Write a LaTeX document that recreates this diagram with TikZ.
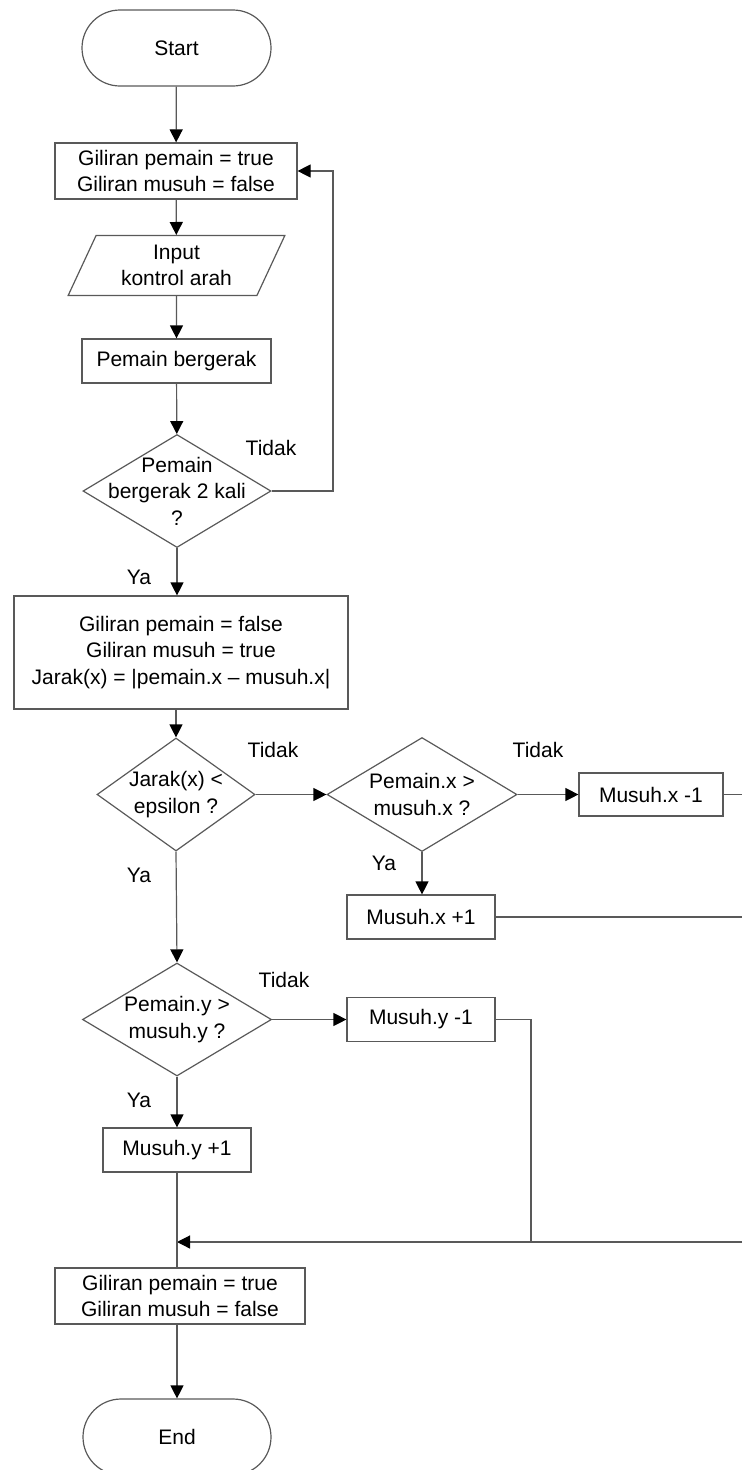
\documentclass[tikz,border=0pt]{standalone}
\usepackage{fontspec}
\setmainfont{Liberation Sans}
\usetikzlibrary{shapes.geometric,arrows.meta}
\begin{document}
\begin{tikzpicture}
      [x=1pt,y=-1pt,
      font=\fontsize{21}{26.5}\selectfont,
      every node/.style={align=center,inner sep=0pt},
      garis/.style={draw=black!65,line width=1.2pt},
      panah/.style={garis,-{Triangle[length=13pt,width=13pt,color=black]}},
      proses/.style={draw=black!65,line width=1.2pt,rectangle},
      terminal/.style={proses,rounded corners=38pt,minimum width=189pt,minimum height=76pt},
      keputusan/.style={proses,diamond},
      masukan/.style={proses,trapezium,trapezium left angle=65,trapezium right angle=115}]
      \useasboundingbox (0,0) rectangle (742,1470);
      \clip (0,0) rectangle (742,1470);

      \node[terminal] (start) at (176.5,48) {Start};
      \node[proses,minimum width=242pt,minimum height=56pt] (giliran1) at (176,171)
        {Giliran pemain = true\\Giliran musuh = false};
      \node[masukan,minimum width=217pt,minimum height=57pt] (input) at (176.5,265.5)
        {Input\\kontrol arah};
      \node[proses,minimum width=189pt,minimum height=44pt] (gerak) at (176.5,361) {Pemain bergerak};
      \node[keputusan,minimum width=188pt,minimum height=113pt,
        label={[align=center]center:Pemain\\bergerak 2 kali\\?}] (cekgerak) at (177,491) {};
      \node[proses,minimum width=334pt,minimum height=113pt] (hitung) at (181,652.5)
        {Giliran pemain = false\\Giliran musuh = true\\Jarak(x) = |pemain.x -- musuh.x|};
      \node[keputusan,minimum width=158pt,minimum height=113pt,
        label={[align=center]center:Jarak(x) <\\epsilon ?}] (cekjarak) at (176,794.5) {};
      \node[keputusan,minimum width=190pt,minimum height=114pt,
        label={[align=center]center:Pemain.x >\\musuh.x ?}] (cekx) at (422,794.5) {};
      \node[proses,minimum width=144pt,minimum height=43pt] (kurangx) at (651,794.5) {Musuh.x -1};
      \node[proses,minimum width=148pt,minimum height=44pt] (tambahx) at (421,917) {Musuh.x +1};
      \node[keputusan,minimum width=189pt,minimum height=113pt,
        label={[align=center]center:Pemain.y >\\musuh.y ?}] (ceky) at (177,1019.5) {};
      \node[proses,minimum width=148pt,minimum height=44pt] (kurangy) at (421,1019.5) {Musuh.y -1};
      \node[proses,minimum width=148pt,minimum height=44pt] (tambahy) at (177,1150) {Musuh.y +1};
      \node[proses,minimum width=250pt,minimum height=56pt] (giliran2) at (180,1296)
        {Giliran pemain = true\\Giliran musuh = false};
      \node[terminal,minimum width=188pt] (stop) at (177,1437) {End};

      % jawaban
      \node (tidak1) at (271,448) {Tidak};
      \node (ya1) at (139,577) {Ya};
      \node (tidak2) at (273,750) {Tidak};
      \node (ya2) at (139,875) {Ya};
      \node (tidak3) at (538,750) {Tidak};
      \node (ya3) at (384,863) {Ya};
      \node (tidak4) at (284,980) {Tidak};
      \node (ya4) at (139,1100) {Ya};

      \coordinate (balik) at (333,491);
      \coordinate (tepi1) at (742,794.5);
      \coordinate (tepi2) at (742,917);
      \coordinate (belok) at (531,1019.5);
      \coordinate (gabung) at (177,1242);
      \coordinate (tepi3) at (742,1242);

      \draw[panah] (start) -- (giliran1);
      \draw[panah] (giliran1) -- (input);
      \draw[panah] (input) -- (gerak);
      \draw[panah] (gerak) -- (cekgerak);
      \draw[panah] (cekgerak.east) -- (balik) |- (giliran1.east);
      \draw[panah] (cekgerak.south) -- (cekgerak.south |- hitung.north);
      \draw[panah] (cekjarak.north |- hitung.south) -- (cekjarak.north);
      \draw[panah] (cekjarak.east) -- (cekx.west);
      \draw[panah] (cekx.east) -- (kurangx.west);
      \draw[garis] (kurangx.east) -- (tepi1);
      \draw[panah] (cekx.south) -- (cekx.south |- tambahx.north);
      \draw[garis] (tambahx.east) -- (tepi2);
      \draw[panah] (cekjarak.south) -- (ceky.north);
      \draw[panah] (ceky.east) -- (kurangy.west);
      \draw[garis] (kurangy.east) -- (belok) -- (belok |- gabung);
      \draw[panah] (tepi3) -- (gabung);
      \draw[panah] (ceky.south) -- (tambahy.north);
      \draw[garis] (tambahy.south) -- (tambahy.south |- giliran2.north);
      \draw[panah] (giliran2.south -| stop.north) -- (stop.north);
\end{tikzpicture}
\end{document}
